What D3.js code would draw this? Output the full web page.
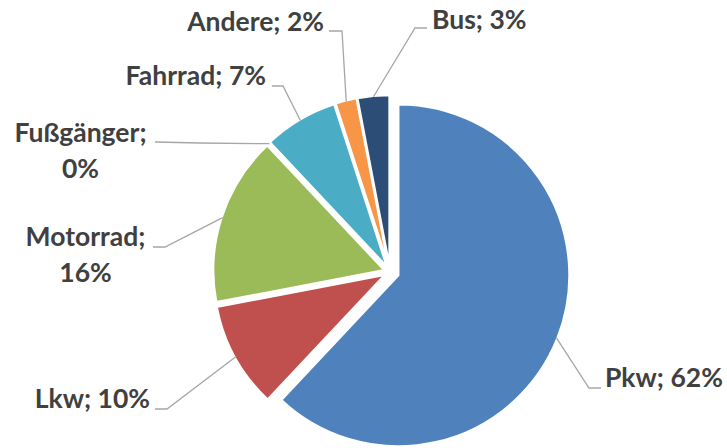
<!DOCTYPE html>
<html><head><meta charset="utf-8">
<script src="https://cdn.jsdelivr.net/npm/d3@7"></script>
<style>
html,body{margin:0;padding:0;background:#fff;}
svg{display:block;}
</style></head>
<body>
<svg id="chart" width="727" height="448"></svg>
<script>
// Data
const categories = ["Pkw", "Lkw", "Motorrad", "Fußgänger", "Fahrrad", "Andere", "Bus"];
const values = [62, 10, 16, 0, 7, 2, 3];
const colors = ["#4F81BD", "#C0504D", "#9BBB59", "#8064A2", "#4BACC6", "#F79646", "#2C4D75"];
const explode = [9, 6, 6, 6, 6, 6, 6];

// label layout (text lines, anchor position, leader elbow and end)
const labelLayout = {
  "Pkw":       {lines:["Pkw; 62%"], anchor:"start", x:605, y:387, elbow:[589,388], end:[601,388]},
  "Lkw":       {lines:["Lkw; 10%"], anchor:"end", x:150, y:408, elbow:[167,409], end:[155,409]},
  "Motorrad":  {lines:["Motorrad;","16%"], anchor:"middle", x:85.5, y:246, elbow:[165,247], end:[153,247]},
  "Fußgänger": {lines:["Fußgänger;","0%"], anchor:"middle", x:80.5, y:142, elbow:[200,143], end:[155,142]},
  "Fahrrad":   {lines:["Fahrrad; 7%"], anchor:"end", x:266, y:85, elbow:[283,86], end:[272,86]},
  "Andere":    {lines:["Andere; 2%"], anchor:"end", x:324, y:31, elbow:[342,31], end:[329,31]},
  "Bus":       {lines:["Bus; 3%"], anchor:"start", x:432, y:29, elbow:[415,28], end:[427,28]}
};

const cx = 390, cy = 272, R = 171;
const svg = d3.select("#chart");
const g = svg.append("g").attr("transform", `translate(${cx},${cy})`);

const data = categories.map((c, i) => ({cat: c, value: values[i], i}));
const pie = d3.pie().value(d => d.value).sort(null).startAngle(0).endAngle(2 * Math.PI);
const arcs = pie(data);
const arc = d3.arc().innerRadius(0).outerRadius(R);

function offset(a, d) {
  const m = (a.startAngle + a.endAngle) / 2;
  return [d * Math.sin(m), -d * Math.cos(m)];
}

g.selectAll("path.slice").data(arcs.filter(a => a.value > 0)).join("path")
  .attr("class", "slice")
  .attr("d", arc)
  .attr("transform", a => { const o = offset(a, explode[a.data.i]); return `translate(${o[0]},${o[1]})`; })
  .attr("fill", a => colors[a.data.i])
  .attr("stroke", "#fff")
  .attr("stroke-width", 2.2)
  .attr("stroke-linejoin", "miter");

// leader lines
const lg = svg.append("g");
arcs.forEach(a => {
  const L = labelLayout[a.data.cat];
  const o = offset(a, explode[a.data.i]);
  const m = (a.startAngle + a.endAngle) / 2;
  const sx = cx + o[0] + (R - 1) * Math.sin(m);
  const sy = cy + o[1] - (R - 1) * Math.cos(m);
  lg.append("polyline")
    .attr("points", [[sx, sy], L.elbow, L.end].map(p => p.join(",")).join(" "))
    .attr("fill", "none")
    .attr("stroke", "#A6A6A6")
    .attr("stroke-width", 1.3);
});

// labels
const tg = svg.append("g")
  .attr("font-family", "Lato, 'Open Sans', sans-serif")
  .attr("font-weight", "bold")
  .attr("font-size", 26.5)
  .attr("fill", "#404040");
arcs.forEach(a => {
  const L = labelLayout[a.data.cat];
  const t = tg.append("text").attr("text-anchor", L.anchor);
  L.lines.forEach((ln, k) => {
    t.append("tspan").attr("x", L.x).attr("y", L.y + k * 35.5).text(ln);
  });
});
</script>
</body></html>
